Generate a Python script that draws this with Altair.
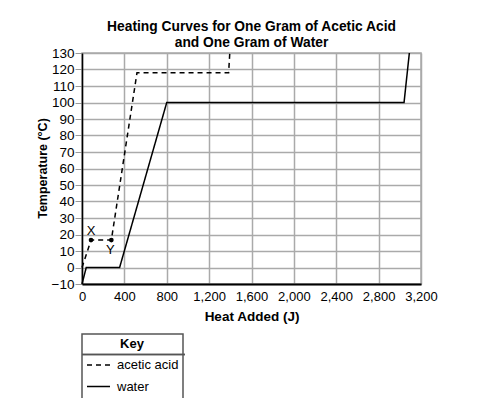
import altair as alt
import pandas as pd

title_lines = ["Heating Curves for One Gram of Acetic Acid", "and One Gram of Water"]
water_heat = [0, 40, 355, 800, 3040, 3090]
water_temp = [-10, 0, 0, 100, 100, 130]
acid_heat = [0, 85, 277, 519, 1384, 1395]
acid_temp = [0, 16.6, 16.6, 118, 118, 130]
point_labels = ["X", "Y"]
point_heat = [85, 277]
point_temp = [16.6, 16.6]
series_names = ["acetic acid", "water"]
x_ticks = [0, 400, 800, 1200, 1600, 2000, 2400, 2800, 3200]
y_ticks = [-10, 0, 10, 20, 30, 40, 50, 60, 70, 80, 90, 100, 110, 120, 130]

rows = []
for i, (h, t) in enumerate(zip(acid_heat, acid_temp)):
    rows.append({"series": series_names[0], "heat": h, "temp": t, "idx": i})
for i, (h, t) in enumerate(zip(water_heat, water_temp)):
    rows.append({"series": series_names[1], "heat": h, "temp": t, "idx": i})
df = pd.DataFrame(rows)
pts = pd.DataFrame({"label": point_labels, "heat": point_heat, "temp": point_temp})

FONT = "Liberation Sans"
xs = alt.Scale(domain=[0, 3200], nice=False)
ys = alt.Scale(domain=[-10, 130], nice=False)

lines = alt.Chart(df).mark_line(color="black", strokeWidth=1.5).encode(
    x=alt.X("heat:Q", scale=xs, title="Heat Added (J)",
            axis=alt.Axis(values=x_ticks, tickCount=20, format=",d", tickSize=0,
                          labelPadding=6, labelOverlap=False, labelFlush=False,
                          labelFontSize=13, titleFontSize=13.5,
                          domainColor="black", domainWidth=2, titlePadding=6)),
    y=alt.Y("temp:Q", scale=ys, title="Temperature (°C)",
            axis=alt.Axis(values=y_ticks, tickCount=30, format="d", tickSize=7,
                          labelPadding=1, tickColor="#999", labelOverlap=False,
                          labelFontSize=13.5, titleFontSize=12.5,
                          titleX=-40, titleY=115, titleBaseline="middle",
                          labelFlush=False, domainColor="black", domainWidth=1.5)),
    strokeDash=alt.StrokeDash(
        "series:N",
        scale=alt.Scale(domain=series_names, range=[[5, 4], [1, 0]]),
        legend=alt.Legend(title="Key", orient="none", legendX=0, legendY=281,
                          symbolType="stroke", symbolSize=529, symbolStrokeWidth=1.5,
                          symbolStrokeColor="black", titleAnchor="middle",
                          titleAlign="center", padding=4, titlePadding=6,
                          clipHeight=16, rowPadding=5.5, labelOffset=6),
    ),
    order="idx:Q",
)

dots = alt.Chart(pts).mark_circle(color="black", size=22, opacity=1).encode(
    x=alt.X("heat:Q", scale=xs), y=alt.Y("temp:Q", scale=ys)
)
xlab = alt.Chart(pts).transform_filter(alt.datum.label == "X").mark_text(
    font=FONT, fontSize=13, dy=-9, color="black"
).encode(x=alt.X("heat:Q", scale=xs), y=alt.Y("temp:Q", scale=ys), text="label:N")
ylab = alt.Chart(pts).transform_filter(alt.datum.label == "Y").mark_text(
    font=FONT, fontSize=13, dy=10, dx=-1, color="black"
).encode(x=alt.X("heat:Q", scale=xs), y=alt.Y("temp:Q", scale=ys), text="label:N")

divider = alt.Chart(pts).mark_rule(color="#555", strokeWidth=1.5).encode(
    x=alt.value(0), x2=alt.value(103), y=alt.value(301.5)
)

t1 = alt.Chart(pd.DataFrame({"t": [title_lines[0]]})).mark_text(
    font=FONT, fontSize=13.8, fontWeight="bold", color="black", baseline="alphabetic"
).encode(text="t:N", x=alt.value(169.5), y=alt.value(-22))
t2 = alt.Chart(pd.DataFrame({"t": [title_lines[1]]})).mark_text(
    font=FONT, fontSize=13.8, fontWeight="bold", color="black", baseline="alphabetic"
).encode(text="t:N", x=alt.value(169.5), y=alt.value(-6))

chart = alt.layer(lines, dots, xlab, ylab, divider, t1, t2).properties(
    width=339, height=231,
    autosize=alt.AutoSizeParams(type="none"),
    padding={"left": 74, "top": 45, "right": 45, "bottom": 114},
).configure_axis(
    gridColor="#aaaaaa", gridWidth=1.5, labelFont=FONT,
    labelColor="black", titleFont=FONT, titleFontWeight="bold",
    titleColor="black",
).configure_view(stroke="#aaaaaa", strokeWidth=1.5).configure_legend(
    labelFont=FONT, labelFontSize=13, labelColor="black", titleFont=FONT,
    titleFontSize=13, titleFontWeight="bold", titleColor="black",
    strokeColor="#555", strokeWidth=1.5,
)

chart.save("out.html", embed_options={"renderer": "svg", "actions": False})
